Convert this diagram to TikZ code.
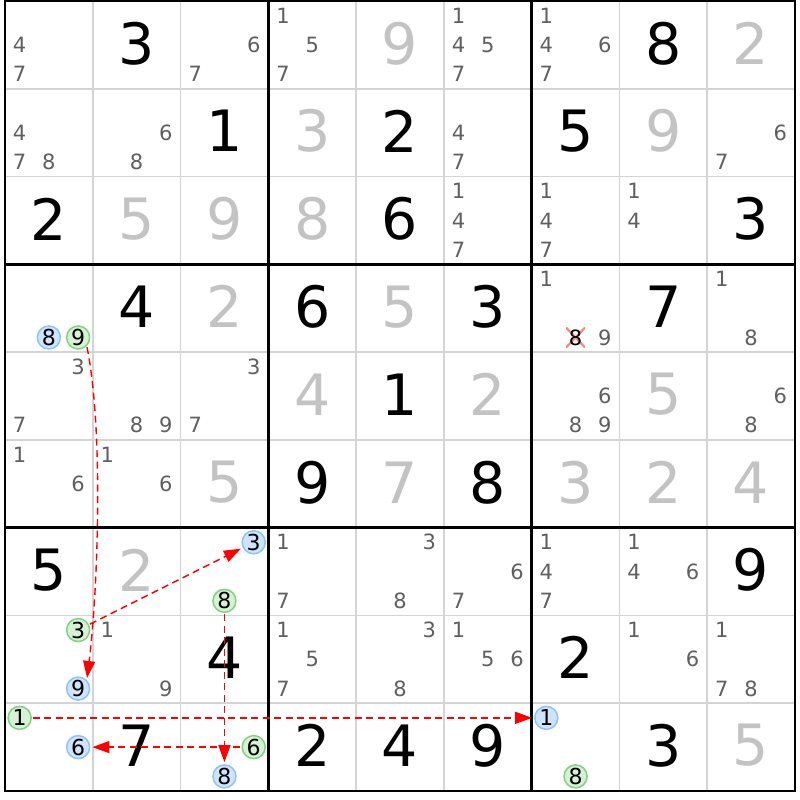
\documentclass[tikz,border=0pt]{standalone}
\usepackage{fontspec}
\setmainfont{DejaVu Sans}
\usetikzlibrary{arrows.meta}
\definecolor{candgray}{HTML}{5F5F5F}
\definecolor{givgray}{HTML}{C3C3C3}
\definecolor{thinline}{HTML}{D4D4D4}
\definecolor{bluefill}{HTML}{CFE5FF}
\definecolor{blueline}{HTML}{8EC4F2}
\definecolor{greenfill}{HTML}{D5F2D5}
\definecolor{greenline}{HTML}{80D280}
\definecolor{xred}{HTML}{F08A8A}
\newcommand\SCand[4][cand]{%
  \pgfmathsetmacro\sdpx{5+(#3-1)*87.7778+14.6296+mod(#4-1,3)*29.2593}%
  \pgfmathsetmacro\sdpy{1+(#2-1)*87.7778+14.6296+floor((#4-1)/3)*29.2593}%
  \node[#1] (k#2#3#4) at (\sdpx,\sdpy) {#4};}
\newcommand\SGiv[4]{%
  \pgfmathsetmacro\sdpx{5+(#2-0.5)*87.7778}%
  \pgfmathsetmacro\sdpy{1+(#1-0.5)*87.7778-1.5}%
  \node[big,text=#4] (g#1#2) at (\sdpx,\sdpy) {#3};}
\tikzset{
  big/.style={font=\fontsize{57}{57}\selectfont, inner sep=0pt},
  cand/.style={font=\fontsize{21}{21}\selectfont, text=candgray, inner sep=0pt},
  circc/.style={cand, font=\fontsize{22}{22}\selectfont, text=black, circle, line width=1.5pt, minimum size=23pt},
  bluec/.style={circc, draw=blueline, fill=bluefill},
  greenc/.style={circc, draw=greenline, fill=greenfill},
  xcand/.style={cand, text=black, minimum width=19pt, minimum height=20pt,
    path picture={\draw[xred, line width=2.2pt]
      (path picture bounding box.north west) -- (path picture bounding box.south east)
      (path picture bounding box.south west) -- (path picture bounding box.north east);}},
  chainarrow/.style={draw=red, line width=1.4pt, dash pattern=on 7pt off 4.5pt,
    -{Triangle[length=17pt,width=12pt,fill=red]}, shorten >=2pt, shorten <=1pt},
  thingrid/.style={draw=thinline, line width=1.6pt},
  thickgrid/.style={draw=black, line width=2.6pt, line cap=rect},
}
\begin{document}
\begin{tikzpicture}[x=1pt,y=-1pt]
\fill[white] (0,0) rectangle (800,800);
\useasboundingbox (0,0) rectangle (800,800);
% thin grid
\foreach \i in {1,2,4,5,7,8} {
  \draw[thingrid] ({5+\i*87.7778},1) -- ({5+\i*87.7778},791);
  \draw[thingrid] (5,{1+\i*87.7778}) -- (795,{1+\i*87.7778});
}
% thick grid
\foreach \i in {0,3,6,9} {
  \draw[thickgrid] ({5+\i*87.7778},1) -- ({5+\i*87.7778},791);
  \draw[thickgrid] (5,{1+\i*87.7778}) -- (795,{1+\i*87.7778});
}
% givens black
\foreach \r/\c/\d in {1/2/3,1/8/8,2/3/1,2/5/2,2/7/5,3/1/2,3/5/6,3/9/3,4/2/4,4/4/6,4/6/3,4/8/7,5/5/1,6/4/9,6/6/8,7/1/5,7/9/9,8/3/4,8/7/2,9/2/7,9/4/2,9/5/4,9/6/9,9/8/3}
  {\SGiv{\r}{\c}{\d}{black}}
% givens gray
\foreach \r/\c/\d in {1/5/9,1/9/2,2/4/3,2/8/9,3/2/5,3/3/9,3/4/8,4/3/2,4/5/5,5/4/4,5/6/2,5/8/5,6/3/5,6/5/7,6/7/3,6/8/2,6/9/4,7/2/2,9/9/5}
  {\SGiv{\r}{\c}{\d}{givgray}}
% candidates
\foreach \r/\c/\d in {1/1/4,1/1/7,1/3/6,1/3/7,1/4/1,1/4/5,1/4/7,1/6/1,1/6/4,1/6/5,1/6/7,1/7/1,1/7/4,1/7/6,1/7/7,
  2/1/4,2/1/7,2/1/8,2/2/6,2/2/8,2/6/4,2/6/7,2/9/6,2/9/7,
  3/6/1,3/6/4,3/6/7,3/7/1,3/7/4,3/7/7,3/8/1,3/8/4,
  4/7/1,4/7/9,4/9/1,4/9/8,
  5/1/3,5/1/7,5/2/8,5/2/9,5/3/3,5/3/7,5/7/6,5/7/8,5/7/9,5/9/6,5/9/8,
  6/1/1,6/1/6,6/2/1,6/2/6,
  7/4/1,7/4/7,7/5/3,7/5/8,7/6/6,7/6/7,7/7/1,7/7/4,7/7/7,7/8/1,7/8/4,7/8/6,
  8/2/1,8/2/9,8/4/1,8/4/5,8/4/7,8/5/3,8/5/8,8/6/1,8/6/5,8/6/6,8/8/1,8/8/6,8/9/1,8/9/7,8/9/8}
  {\SCand{\r}{\c}{\d}}
% eliminated candidate
\SCand[xcand]{4}{7}{8}
% highlighted candidates
\SCand[bluec]{4}{1}{8}
\SCand[greenc]{4}{1}{9}
\SCand[bluec]{7}{3}{3}
\SCand[greenc]{7}{3}{8}
\SCand[greenc]{8}{1}{3}
\SCand[bluec]{8}{1}{9}
\SCand[greenc]{9}{1}{1}
\SCand[bluec]{9}{1}{6}
\SCand[greenc]{9}{3}{6}
\SCand[bluec]{9}{3}{8}
\SCand[bluec]{9}{7}{1}
\SCand[greenc]{9}{7}{8}
% chain arrows
\draw[chainarrow] (k419.-45) .. controls +(17,84) and +(11,-88) .. (k819.45);
\draw[chainarrow] (k813) -- (k733);
\draw[chainarrow] (k738) -- (k938);
\draw[chainarrow] (k911) -- (k971);
\draw[chainarrow] (k936) -- (k916);
\end{tikzpicture}
\end{document}
